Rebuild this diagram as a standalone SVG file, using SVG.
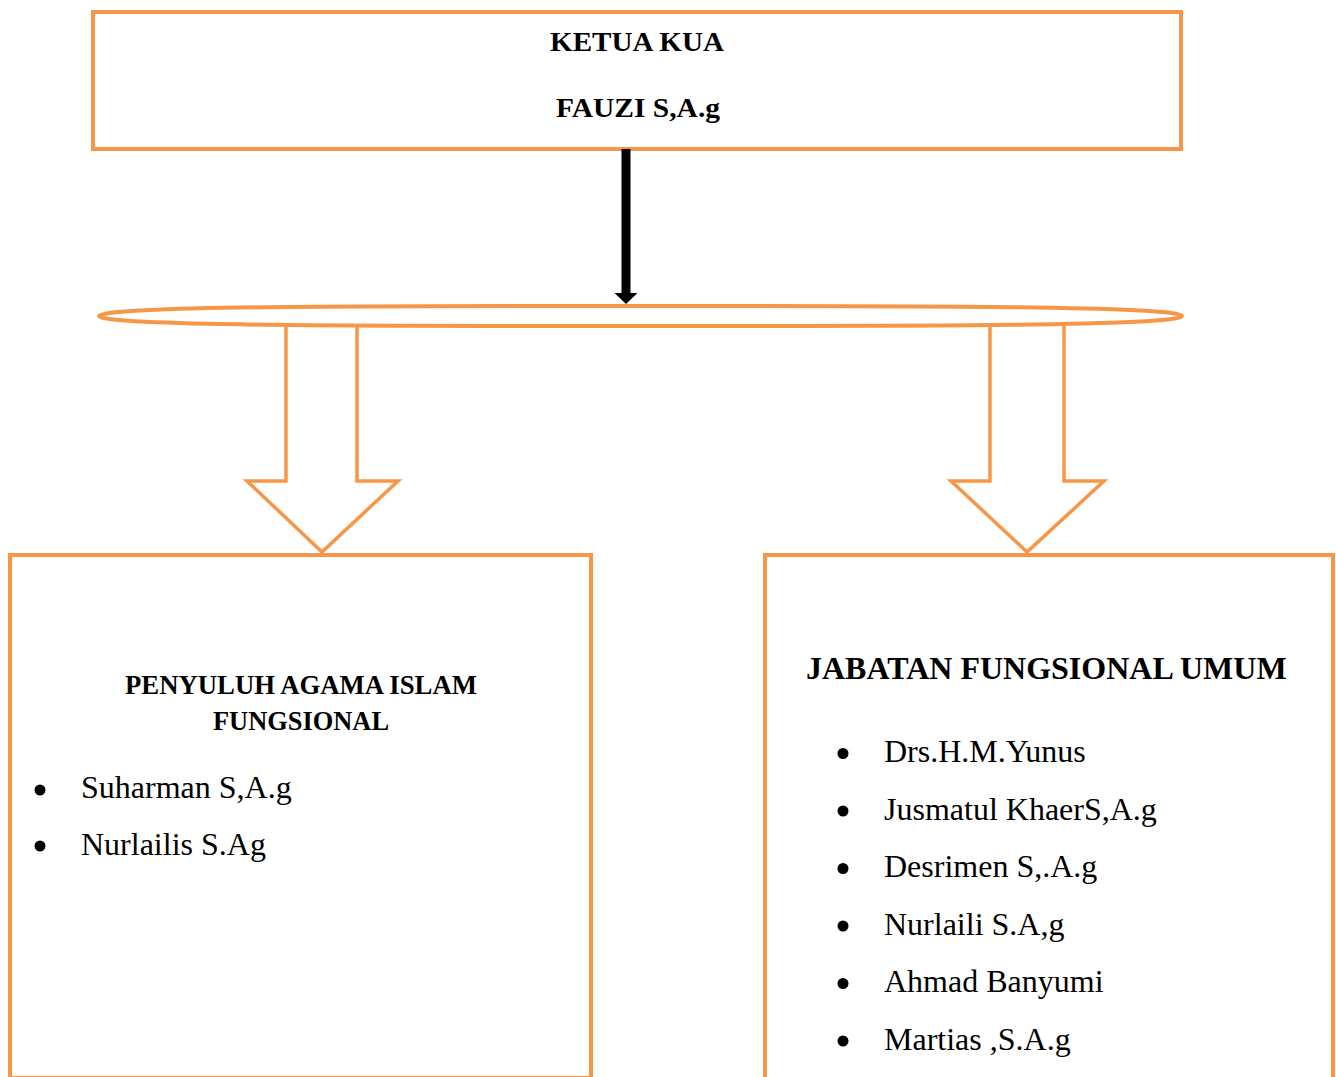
<svg xmlns="http://www.w3.org/2000/svg" width="1336" height="1077" viewBox="0 0 1336 1077">
<style>
.box{fill:#FFFFFF;stroke:#F79646;stroke-width:4}
.blk{fill:#FFFFFF;stroke:#F79646;stroke-width:3.5;stroke-linejoin:miter}
.hd{font-family:"Liberation Serif","Times New Roman",serif;font-weight:bold;fill:#000000}
.it{font-family:"Liberation Serif","Times New Roman",serif;font-size:32px;fill:#000000}
.bul{fill:#000000}
</style>
<rect x="0" y="0" width="1336" height="1077" fill="#FFFFFF"/>
<g id="node-ketua">
<rect class="box" x="93" y="12" width="1088" height="137"/>
<text class="hd" x="550" y="51" font-size="28" textLength="174" lengthAdjust="spacingAndGlyphs">KETUA KUA</text>
<text class="hd" x="556" y="117" font-size="28" textLength="164" lengthAdjust="spacingAndGlyphs">FAUZI S,A.g</text>
</g>
<g id="node-penyuluh">
<rect class="box" x="10" y="555" width="581" height="523"/>
<text class="hd" x="125" y="694" font-size="26.5" textLength="352" lengthAdjust="spacingAndGlyphs">PENYULUH AGAMA ISLAM</text>
<text class="hd" x="213" y="730" font-size="26.5" textLength="176" lengthAdjust="spacingAndGlyphs">FUNGSIONAL</text>
<circle class="bul" cx="40" cy="790" r="5.5"/>
<text class="it" x="81" y="798">Suharman S,A.g</text>
<circle class="bul" cx="40" cy="846" r="5.5"/>
<text class="it" x="81" y="855">Nurlailis S.Ag</text>
</g>
<g id="node-jabatan">
<rect class="box" x="765" y="555" width="568" height="540"/>
<text class="hd" x="806" y="679" font-size="32">JABATAN FUNGSIONAL UMUM</text>
<circle class="bul" cx="843" cy="753.5" r="5.5"/>
<text class="it" x="884" y="762">Drs.H.M.Yunus</text>
<circle class="bul" cx="843" cy="811" r="5.5"/>
<text class="it" x="884" y="819.5">Jusmatul KhaerS,A.g</text>
<circle class="bul" cx="843" cy="868.5" r="5.5"/>
<text class="it" x="884" y="877">Desrimen S,.A.g</text>
<circle class="bul" cx="843" cy="926" r="5.5"/>
<text class="it" x="884" y="934.5">Nurlaili S.A,g</text>
<circle class="bul" cx="843" cy="983.5" r="5.5"/>
<text class="it" x="884" y="992">Ahmad Banyumi</text>
<circle class="bul" cx="843" cy="1041" r="5.5"/>
<text class="it" x="884" y="1049.5">Martias ,S.A.g</text>
</g>
<g id="connectors">
<line x1="626" y1="149" x2="626" y2="294" stroke="#000000" stroke-width="9"/>
<polygon points="614.5,293 637.5,293 626,304" fill="#000000"/>
<polygon class="blk" points="286,324 286,481 247,481 322,552 398,481 357,481 357,324"/>
<polygon class="blk" points="990,324 990,481 951,481 1027,552 1104,481 1064,481 1064,324"/>
</g>
<g id="node-hub">
<path d="M 99 316 C 99 305.5, 400 306, 640 306 C 880 306, 1182 305.5, 1182 316 C 1182 326.5, 880 326, 640 326 C 400 326, 99 326.5, 99 316 Z" fill="#FFFFFF" stroke="#F79646" stroke-width="4"/>
</g>
</svg>
